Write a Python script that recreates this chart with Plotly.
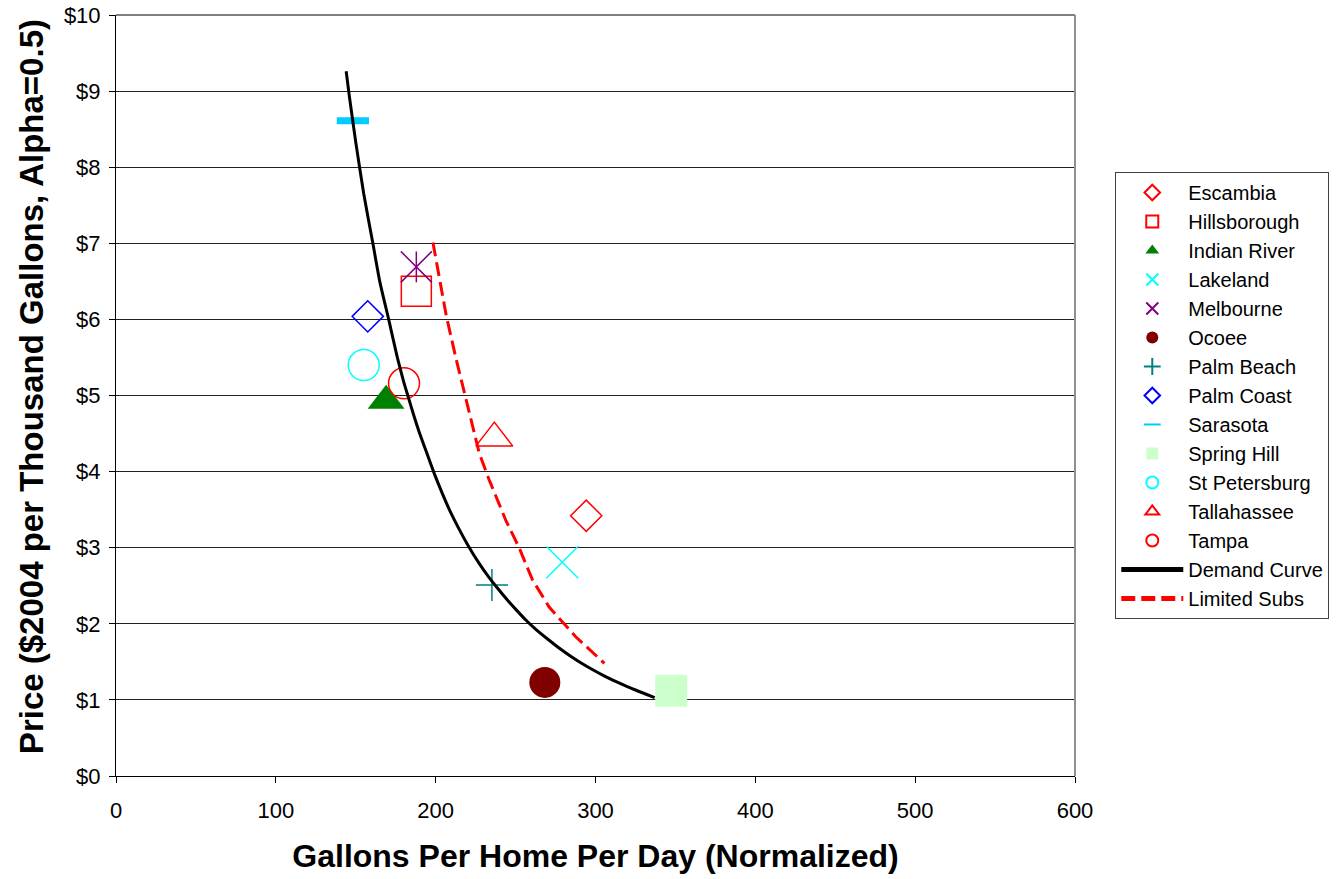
import plotly.graph_objects as go

# ---------------- data ----------------
cities = ["Escambia", "Hillsborough", "Indian River", "Lakeland", "Melbourne",
          "Ocoee", "Palm Beach", "Palm Coast", "Sarasota", "Spring Hill",
          "St Petersburg", "Tallahassee", "Tampa"]
gallons = [294.2, 187.9, 169.0, 279.2, 187.9, 268.3, 235.2, 157.5, 148.2, 347.4,
           155.0, 236.7, 180.2]
price = [3.42, 6.37, 4.93, 2.81, 6.69, 1.23, 2.51, 6.04, 8.61, 1.12,
         5.40, 4.44, 5.16]

demand_x = [144.0, 146.0, 150.0, 155.0, 160.7, 165.0, 170.6, 176.0, 180.0, 183.0,
            186.0, 190.0, 194.0, 199.2, 204.0, 209.0, 214.0, 220.0, 227.0, 233.0,
            239.0, 245.0, 251.0, 256.4, 263.0, 270.0, 277.0, 284.0, 291.0, 298.0,
            306.0, 315.0, 325.0, 337.0]
demand_y = [9.26, 8.93, 8.33, 7.65, 7.00, 6.50, 6.00, 5.50, 5.18, 4.97,
            4.76, 4.50, 4.27, 3.97, 3.72, 3.48, 3.27, 3.04, 2.80, 2.62,
            2.46, 2.31, 2.17, 2.05, 1.92, 1.80, 1.685, 1.58, 1.485, 1.40,
            1.31, 1.22, 1.13, 1.03]

subs_x = [198.3, 206.7, 212.9, 219.2, 225.2, 227.3, 233.5, 243.9, 252.2, 260.5,
          271.0, 287.6, 305.6]
subs_y = [7.01, 6.04, 5.47, 4.94, 4.42, 4.24, 3.89, 3.36, 3.00, 2.58,
          2.22, 1.83, 1.48]

x_ticks = [0, 100, 200, 300, 400, 500, 600]
y_ticks = [0, 1, 2, 3, 4, 5, 6, 7, 8, 9, 10]
y_tick_labels = ["$0", "$1", "$2", "$3", "$4", "$5", "$6", "$7", "$8", "$9", "$10"]

x_title = "Gallons Per Home Per Day (Normalized)"
y_title = "Price ($2004 per Thousand Gallons, Alpha=0.5)"

# ---------------- styles ----------------
styles = {
    "Escambia":      dict(symbol="diamond-open", size=24, color="#FF0000"),
    "Hillsborough":  dict(symbol="square-open", size=30, color="#FF0000"),
    "Indian River":  dict(symbol="triangle-up", size=32, color="#008000"),
    "Lakeland":      dict(symbol="x-thin-open", size=32, color="#00FFFF"),
    "Melbourne":     dict(symbol="x-thin-open", size=31, color="#800080"),
    "Ocoee":         dict(symbol="circle", size=31, color="#800000"),
    "Palm Beach":    dict(symbol="cross-thin-open", size=23, color="#008080"),
    "Palm Coast":    dict(symbol="diamond-open", size=24, color="#0000FF"),
    "Sarasota":      dict(symbol="line-ew-open", size=23, color="#00CCFF", width=7),
    "Spring Hill":   dict(symbol="square", size=32, color="#CCFFCC"),
    "St Petersburg": dict(symbol="circle-open", size=31, color="#00FFFF"),
    "Tallahassee":   dict(symbol="triangle-up-open", size=32, color="#FF0000"),
    "Tampa":         dict(symbol="circle-open", size=31, color="#FF0000"),
}

FONT = "Liberation Sans, Arial, sans-serif"

fig = go.Figure()

for name, gx, py in zip(cities, gallons, price):
    st = styles[name]
    filled = not st["symbol"].endswith("open")
    marker = dict(symbol=st["symbol"], size=st["size"], color=st["color"],
                  line=dict(color=st["color"], width=st.get("width", 1.5 if not filled else 0)))
    fig.add_trace(go.Scatter(x=[gx], y=[py], mode="markers", name=name,
                             marker=marker, legendgroup=name))
    if name == "Melbourne":
        fig.add_trace(go.Scatter(x=[gx], y=[py], mode="markers", name=name,
                                 showlegend=False, legendgroup=name,
                                 marker=dict(symbol="line-ns-open", size=22,
                                             color=st["color"],
                                             line=dict(color=st["color"], width=1.5))))

fig.add_trace(go.Scatter(x=demand_x, y=demand_y, mode="lines", name="Demand Curve",
                         line=dict(color="black", width=3, shape="spline", smoothing=0.5)))
fig.add_trace(go.Scatter(x=subs_x, y=subs_y, mode="lines", name="Limited Subs",
                         line=dict(color="#FF0000", width=3, dash="14px,6px")))

fig.update_layout(
    width=1341, height=879,
    margin=dict(l=116, r=264, t=15, b=103),
    paper_bgcolor="white", plot_bgcolor="white",
    font=dict(family=FONT, color="black"),
    showlegend=True,
    legend=dict(x=1.042, y=0.7937, xanchor="left", yanchor="top",
                font=dict(size=20, family=FONT, color="black"),
                bordercolor="#404040", borderwidth=1, bgcolor="white",
                itemsizing="constant", tracegroupgap=0, itemwidth=62),
    xaxis=dict(range=[0, 600], tickvals=x_ticks, ticks="outside", ticklen=6,
               tickcolor="black", showline=True, linecolor="black", linewidth=1,
               showgrid=False, zeroline=False, automargin=False,
               ticklabelstandoff=9,
               tickfont=dict(size=22, family=FONT),
               title=dict(text="<b>" + x_title + "</b>",
                          font=dict(size=32, family=FONT), standoff=22)),
    yaxis=dict(range=[0, 10], tickvals=y_ticks, ticktext=y_tick_labels,
               ticks="outside", ticklen=6, tickcolor="black", showline=True,
               linecolor="black", linewidth=1, showgrid=True, gridcolor="#202020",
               gridwidth=1, zeroline=False, automargin=False,
               ticklabelstandoff=4,
               tickfont=dict(size=22, family=FONT)),
    annotations=[dict(text="<b>" + y_title + "</b>", xref="paper", yref="paper",
                      x=0, y=0.511, xanchor="center", yanchor="middle",
                      xshift=-85, textangle=-90, showarrow=False,
                      font=dict(size=33, family=FONT, color="black"))],
    shapes=[dict(type="line", xref="paper", yref="paper", x0=0, x1=1, y0=1, y1=1,
                 line=dict(color="#808080", width=2), layer="above"),
            dict(type="line", xref="paper", yref="paper", x0=1, x1=1, y0=0, y1=1,
                 line=dict(color="#909090", width=2), layer="above")],
)

fig.write_html("out.html")
